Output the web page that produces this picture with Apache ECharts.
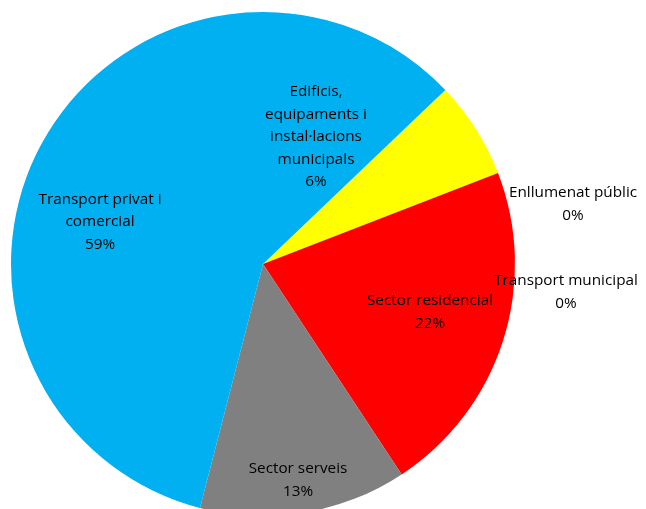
<!DOCTYPE html>
<html>
<head>
<meta charset="utf-8">
<script src="https://cdn.jsdelivr.net/npm/echarts@6/dist/echarts.min.js"></script>
<style>
  html, body { margin: 0; padding: 0; background: #fff; }
  #chart { width: 646px; height: 509px; }
</style>
</head>
<body>
<div id="chart"></div>
<script>
// categories and shares (%), in the chart's clockwise order
var categories = [
  'Edificis,\nequipaments i\ninstal·lacions\nmunicipals',
  'Enllumenat públic',
  'Transport municipal',
  'Sector residencial',
  'Sector serveis',
  'Transport privat i\ncomercial'
];
var shares = [6.25, 0, 0, 21.6, 13.3, 58.85];
var colors = ['#FFFF00', '#FFC000', '#70AD47', '#FF0000', '#808080', '#00B0F0'];

// where each label's text block is centred (px)
var labelPos = [[316, 137], [573, 204], [566, 292], [430, 312], [298, 480], [100, 222]];

var chart = echarts.init(document.getElementById('chart'));

chart.setOption({
  animation: false,
  series: [{
    type: 'pie',
    center: [263, 264],
    radius: 252,
    startAngle: 43.65,
    clockwise: true,
    avoidLabelOverlap: false,
    stillShowZeroSum: true,
    itemStyle: { borderWidth: 0 },
    label: {
      show: true,
      position: 'inside',
      color: '#000',
      fontFamily: 'Open Sans',
      fontSize: 15.3,
      lineHeight: 22.5,
      align: 'center',
      formatter: function (p) {
        return p.name + '\n' + Math.round(p.percent) + '%';
      }
    },
    labelLine: { show: false },
    labelLayout: function (params) {
      var pos = labelPos[params.dataIndex];
      return { x: pos[0], y: pos[1], align: 'center', verticalAlign: 'middle' };
    },
    emphasis: { disabled: true },
    data: categories.map(function (c, i) {
      return { name: c, value: shares[i], itemStyle: { color: colors[i] } };
    })
  }]
});
</script>
</body>
</html>
